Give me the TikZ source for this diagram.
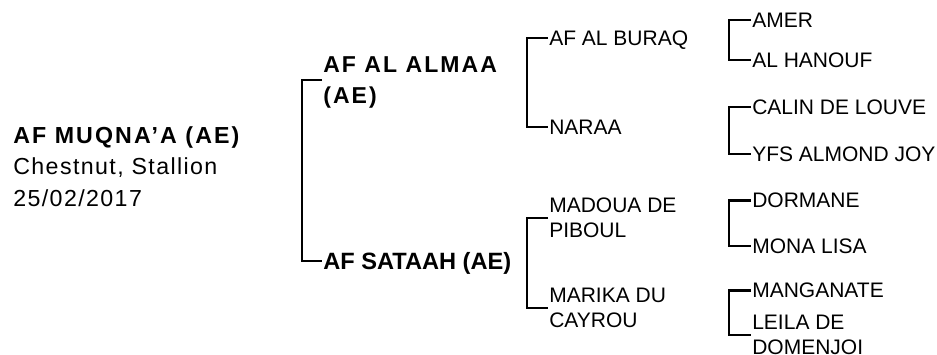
\documentclass[tikz,border=0pt]{standalone}
\usepackage{fontspec}
\setmainfont{Liberation Sans}
\newfontfamily\trackedfont[LetterSpace=6]{Liberation Sans}
\newfontfamily\widefont[LetterSpace=9]{Liberation Sans}
\tikzset{
  every picture/.style={x=0.5pt, y=-0.5pt, line width=1.3pt},
  horse/.style={anchor=west, inner sep=0pt, align=left, text depth=0pt, font=\fontsize{10.5}{12.5}\selectfont},
  parent/.style={horse, font=\fontsize{11.8}{15.5}\selectfont\bfseries},
  bracket/.style={draw=black},
}
\begin{document}
\begin{tikzpicture}
  \useasboundingbox (0,0) rectangle (937,354);
  % the foal
  \node[horse, font=\trackedfont\fontsize{11.6}{15.8}\selectfont] (foal) at (12,166.5) {{\widefont\bfseries AF MUQNA’A (AE)}\\Chestnut, Stallion\\25/02/2017};
  % parents
  \node[parent, font=\widefont\fontsize{11.5}{15.5}\selectfont\bfseries] (s) at (322,80) {AF AL ALMAA\\(AE)};
  \node[parent] (d) at (322,261) {AF SATAAH (AE)};
  \draw[bracket] (s.west) -- ++(-20,0) |- (d.west);
  % grandparents
  \node[horse] (ss) at (548,38) {AF AL BURAQ};
  \node[horse] (sd) at (548,127) {NARAA};
  \node[horse] (ds) at (548,218) {MADOUA DE\\PIBOUL};
  \node[horse] (dd) at (548,308) {MARIKA DU\\CAYROU};
  \draw[bracket] (ss.west) -- ++(-21,0) |- (sd.west);
  \draw[bracket] (ds.west) -- ++(-21,0) |- (dd.west);
  % great-grandparents
  \node[horse] (sss) at (751,20) {AMER};
  \node[horse] (ssd) at (751,60) {AL HANOUF};
  \node[horse] (sds) at (751,107) {CALIN DE LOUVE};
  \node[horse] (sdd) at (751,154) {YFS ALMOND JOY};
  \node[horse] (dss) at (751,200.5) {DORMANE};
  \node[horse] (dsd) at (751,246) {MONA LISA};
  \node[horse] (dds) at (751,290.5) {MANGANATE};
  \node[horse] (ddd) at (751,335) {LEILA DE\\DOMENJOI};
  \draw[bracket] (sss.west) -- ++(-22,0) |- (ssd.west);
  \draw[bracket] (sds.west) -- ++(-22,0) |- (sdd.west);
  \draw[bracket] (dss.west) -- ++(-22,0) |- (dsd.west);
  \draw[bracket] (dds.west) -- ++(-22,0) |- (ddd.west);
\end{tikzpicture}
\end{document}
